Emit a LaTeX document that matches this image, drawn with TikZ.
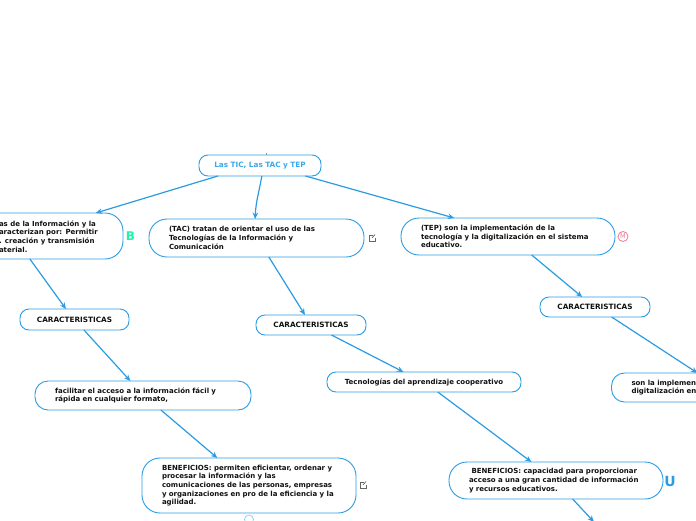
\documentclass[tikz,border=0pt]{standalone}
\usepackage{fontspec}
\setmainfont{DejaVu Sans}
\usetikzlibrary{arrows.meta}

\definecolor{mapblue}{HTML}{2B9CE3}
\definecolor{rootblue}{HTML}{3AA8EA}
\definecolor{maptext}{HTML}{111111}
\definecolor{mintgreen}{HTML}{1CF5A8}
\definecolor{pinkred}{HTML}{EF7A96}
\definecolor{linkgrey}{HTML}{666666}

\tikzset{
  topic/.style={draw=mapblue,line width=0.9pt,fill=white,rectangle,rounded corners=18pt,inner xsep=20pt,inner ysep=0pt,outer sep=0pt,
    text width=175pt,align=left,text=maptext,font=\fontsize{7}{8.7}\selectfont\bfseries},
  small topic/.style={topic,rounded corners=9pt,minimum height=20pt,inner xsep=0pt,align=center},
  caps topic/.style={small topic,font=\fontsize{7.3}{8.7}\selectfont\bfseries},
  bare text/.style={inner sep=0pt,outer sep=0pt,align=left,text=maptext,font=\fontsize{7}{8.7}\selectfont\bfseries},
  branch/.style={draw=mapblue,line width=1.2pt,-{Stealth[length=6.5pt,width=5.5pt]}},
  extlink/.pic={
    \draw[linkgrey,line width=0.7pt] (1,-3) -- (-3,-3) -- (-3,3) -- (3,3) -- (3,0);
    \draw[linkgrey,line width=0.7pt] (0,0) -- (3,-3.5);
  }
}

\begin{document}
\begin{tikzpicture}[x={(1pt,0pt)}, y={(0pt,-1pt)}]
  \clip (0,0) rectangle (696,520);
  \fill[white] (0,0) rectangle (696,520);

  % Nodes
  \node[caps topic,text width=122pt,minimum height=21pt,text=rootblue] (Root) at (260,165.5) {Las TIC, Las TAC y TEP};

  \node[topic,minimum height=46pt] (TIC) at (15.5,236) {};
  \node[bare text,anchor=west] (TICtext) at (-1,236.5) {as de la Información y la\\aracterizan por: Permitir\\. creación y transmisión\\aterial.};
  \node[topic,minimum height=38pt] (TAC) at (256.5,238) {(TAC) tratan de orientar el uso de las\\Tecnologías de la Información y\\Comunicación};
  \node[topic,text width=174pt,minimum height=37pt] (TEP) at (508,236.5) {(TEP) son la implementación de la\\tecnología y la digitalización en el sistema\\educativo.};

  \node[caps topic,text width=109pt,minimum height=21pt] (Carac1) at (74.5,319.5) {CARACTERISTICAS};
  \node[caps topic,text width=110pt] (Carac2) at (311,325) {CARACTERISTICAS};
  \node[caps topic,text width=110pt] (Carac3) at (595,307) {CARACTERISTICAS};

  \node[topic,text width=176pt,rounded corners=13pt,minimum height=29pt] (Acceso) at (143,395.5) {facilitar el acceso a la información fácil y\\rápida en cualquier formato,};
  \node[small topic,text width=194pt] (Cooperativo) at (424,382) {Tecnologías del aprendizaje cooperativo};
  \node[topic,rounded corners=13pt,minimum height=29pt] (Implementa) at (719,387.5) {son la implemen\\digitalización en};

  \node[topic,text width=174pt,minimum height=55pt] (Beneficio1) at (249,485.5) {BENEFICIOS: permiten eficientar, ordenar y\\procesar la información y las\\comunicaciones de las personas, empresas\\y organizaciones en pro de la eficiencia y la\\agilidad.};
  \node[topic,text width=174pt,minimum height=37pt] (Beneficio2) at (556,480.5) {\hspace*{2.5pt}BENEFICIOS: capacidad para proporcionar\\acceso a una gran cantidad de información\\y recursos educativos.};

  \coordinate (Below2) at (594,522);

  % Edges
  \draw[branch] (Root.194.7) -- (TIC.16.5);
  \draw[branch] (Root.280.8) to[out=-100,in=88] (TAC.94.5);
  \draw[branch] (Root.347.7) -- (TEP.161.1);

  \draw[branch] (TIC.302.2) -- (Carac1.129);
  \draw[branch] (Carac1.312.1) -- (Acceso.131.9);
  \draw[branch] (Acceso.321.1) -- (Beneficio1.139.3);

  \draw[branch] (TAC.303.3) -- (Carac2.121);
  \draw[branch] (Carac2.334.5) -- (Cooperativo.154.5);
  \draw[branch] (Cooperativo.324.5) -- (Beneficio2.143.5);
  \draw[branch] (Beneficio2.312.6) -- (Below2);

  \draw[branch] (TEP.322.4) -- (Carac3.142.4);
  \draw[branch] (Carac3.329.5) -- (Implementa.146.6);

  % Icons
  \pic at (372,238) {extlink};
  \pic at (363,485) {extlink};
  \node[inner sep=0pt,text=mintgreen,font=\fontsize{12}{12}\selectfont\bfseries] (IconB) at (130.5,236) {B};
  \node[draw=pinkred,circle,line width=0.8pt,minimum size=10pt,inner sep=0pt,text=pinkred,font=\fontsize{6.5}{6.5}\selectfont] (IconM) at (623,236.5) {M};
  \node[inner sep=0pt,text=mapblue,font=\fontsize{14}{14}\selectfont\bfseries] (IconU) at (670,481) {U};
  \node[draw=rootblue!60,circle,line width=0.7pt,minimum size=9pt,inner sep=0pt,fill=white] (Fold) at (249,519.5) {};
  \draw[linkgrey!70,line width=0.5pt] (Root.north)+(6,-2.5) -- +(6,-0.5);
\end{tikzpicture}
\end{document}
